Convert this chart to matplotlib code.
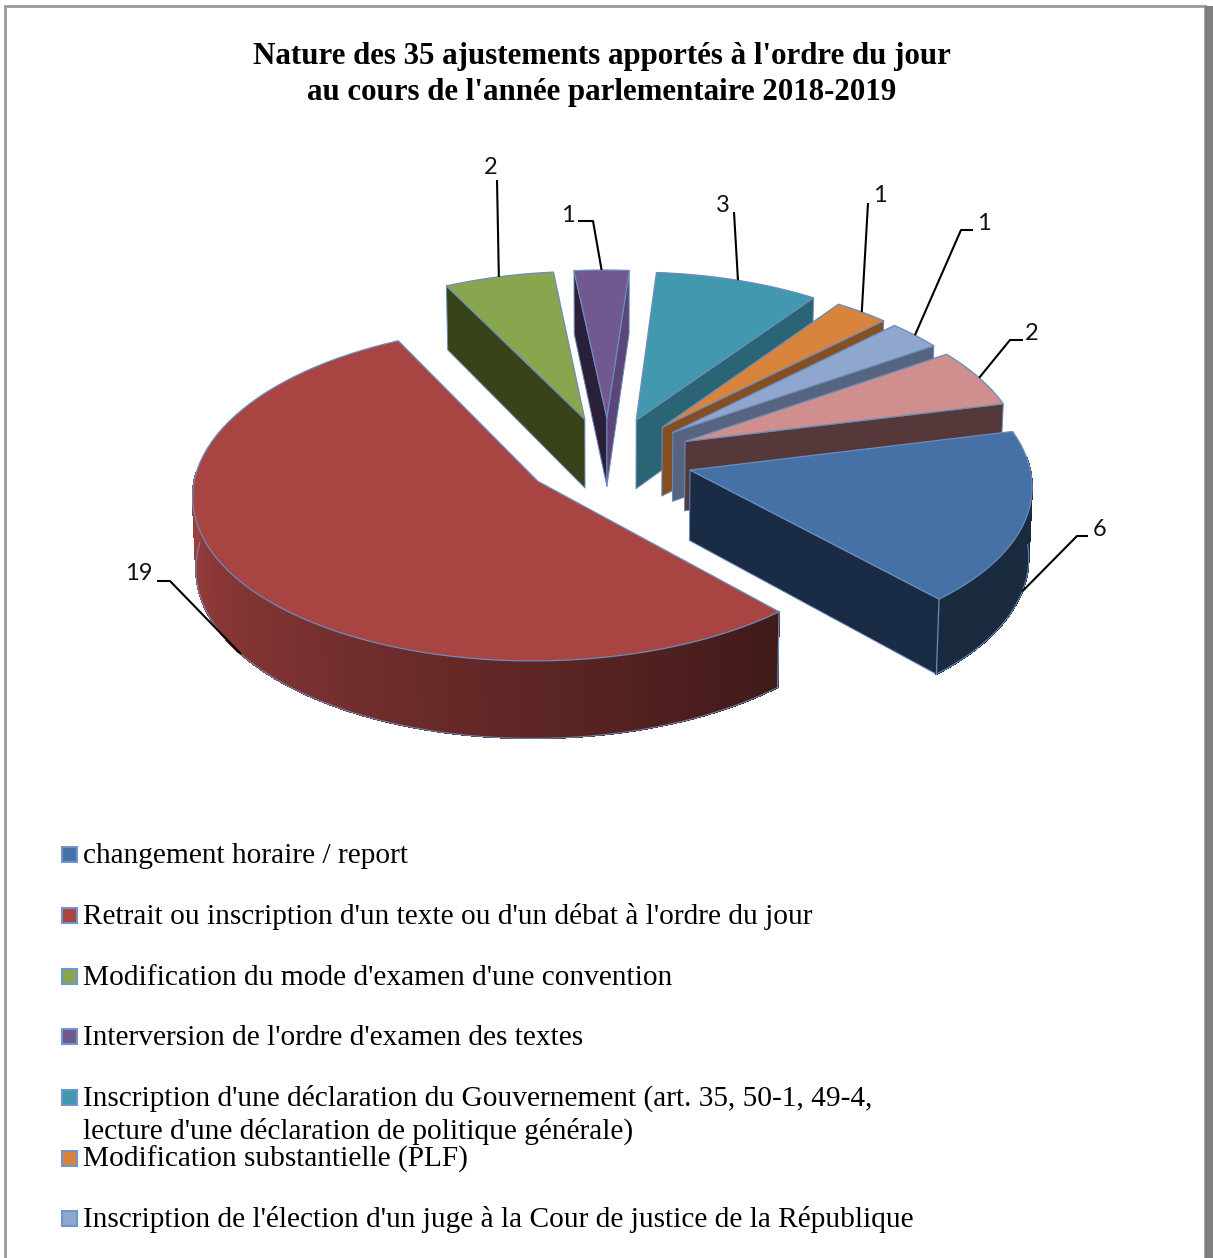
import numpy as np
import matplotlib
matplotlib.use('Agg')
import matplotlib.pyplot as plt
from matplotlib.colors import to_rgb
from matplotlib.patches import Polygon, Rectangle

title = "Nature des 35 ajustements apportés à l'ordre du jour\nau cours de l'année parlementaire 2018-2019"
values = [6, 19, 2, 1, 3, 1, 1, 2]
top_colors = ['#4571A7', '#A84442', '#89A54E', '#71588F', '#4198AF', '#D8843C', '#8FA6CE', '#CE8F8E']
start_side = ['#1A2B45', '#421A18', '#374319', '#2A203A', '#276070', '#854F24', '#566480', '#55393A']
end_side = ['#1A2B45', '#421A18', '#374319', '#5A4678', '#2A6475', '#854F24', '#566480', '#55393A']
legend_labels = [
    "changement horaire / report",
    "Retrait ou inscription d'un texte ou d'un débat à l'ordre du jour",
    "Modification du mode d'examen d'une convention",
    "Interversion de l'ordre d'examen des textes",
    "Inscription d'une déclaration du Gouvernement (art. 35, 50-1, 49-4,\nlecture d'une déclaration de politique générale)",
    "Modification substantielle (PLF)",
    "Inscription de l'élection d'un juge à la Cour de justice de la République",
]
legend_y = [853, 914, 975, 1035, 1096, 1157, 1217]
# label centre and elbow of each leader line, in pixels
label_pos = [(1100, 529), (139, 574), (491, 167), (568, 215), (723, 206), (880, 196), (984, 223), (1032, 333)]
elbows = [(1077, 536), (170, 581), (497, 180), (593, 221), (734, 212), (868, 203), (961, 230), (1010, 340)]
elbow_ends = [(1088, 536), (157, 581), None, (578, 221), None, None, (973, 230), (1023, 340)]

CX, CY = 608.5, 458
RX, RY = 339, 163.5
PERSP_X = 0.08
PERSP_Y = 0.07
SHEAR = 6
TILT = 3.5
DEPTH = 70
EXPLODE = 0.25
START = 75.0
EDGE = '#6C8CBC'


def project(u, v, down=False):
    x = CX + RX * u / (1 + PERSP_X * v) + SHEAR * v
    y = CY - RY * v / (1 + PERSP_Y * v) + TILT * u
    if down:
        x = CX + (x - CX) * 0.992
        y = y + DEPTH / (1 + 1.2 * v * PERSP_Y)
    return x, y


def rim(t, off, down=False):
    a = np.radians(t)
    return project(np.sin(a) + off[0], np.cos(a) + off[1], down)


def outer_shade(t):
    if t < 137:
        return 0.38
    return min(0.38 + 0.55 * (t - 137) / 133, 0.93)


fig = plt.figure(figsize=(12.13, 12.58), dpi=100)
ax = fig.add_axes([0, 0, 1, 1])
ax.set_xlim(0, 1213)
ax.set_ylim(1258, 0)
ax.axis('off')

# page frame
ax.add_patch(Rectangle((5, 6), 1200, 1260, fc='white', ec='#9A9A9A', lw=2))
ax.add_patch(Rectangle((1205, 6), 8, 1252, fc='#7F7F7F', ec='none'))

ax.text(602, 74.5, title, ha='center', va='center', fontsize=22.2, fontweight='bold',
        family='Liberation Serif', linespacing=1.33, color='black')

angles = START + np.cumsum([0] + values) * 360.0 / sum(values)
wedges = []
for i in range(len(values)):
    t0, t1 = angles[i], angles[i + 1]
    mid = np.radians((t0 + t1) / 2)
    off = (EXPLODE * np.sin(mid), EXPLODE * np.cos(mid))
    wedges.append((np.cos(mid), i, t0, t1, off))

# far wedges first, each on its own z level so lines stay with their wedge
for n, (_, i, t0, t1, off) in enumerate(sorted(wedges, key=lambda w: -w[0])):
    z = 3 + n
    ts = np.linspace(t0, t1, 80)
    apex = project(off[0], off[1])
    apex_d = project(off[0], off[1], True)
    base = np.array(to_rgb(top_colors[i]))

    # radial side faces
    if np.sin(np.radians(t0)) < 0:
        face = [apex, rim(t0, off), rim(t0, off, True), apex_d]
        ax.add_patch(Polygon(face, fc=start_side[i], ec=EDGE, lw=0.7, joinstyle='round', zorder=z))
    if np.sin(np.radians(t1)) > 0:
        face = [apex, rim(t1, off), rim(t1, off, True), apex_d]
        ax.add_patch(Polygon(face, fc=end_side[i], ec=EDGE, lw=0.7, joinstyle='round', zorder=z))

    # outer curved face, a bit past the sides so the silhouette closes under the top
    lo, hi = max(t0, 84), min(t1, 272)
    if hi > lo and t0 < 270 and t1 > 90:
        vis = np.linspace(lo, hi, 130)
        for a, b in zip(vis[:-1], vis[1:]):
            col = base * outer_shade((a + b) / 2)
            quad = [rim(a, off), rim(b, off), rim(b, off, True), rim(a, off, True)]
            ax.add_patch(Polygon(quad, fc=col, ec=col, lw=0.6, antialiased=False, zorder=z))
        lower = [rim(t, off, True) for t in vis if t >= 90]
        ax.plot(*zip(*lower), color=EDGE, lw=0.7, zorder=z)
        # seam at the corners of the slice
        if t0 > 90:
            ax.plot(*zip(rim(t0, off), rim(t0, off, True)), color=EDGE, lw=0.9, zorder=z)
        if t1 < 270:
            ax.plot(*zip(rim(t1, off), rim(t1, off, True)), color=EDGE, lw=0.9, zorder=z)

    # top face
    pts = [apex] + [rim(t, off) for t in ts]
    ax.add_patch(Polygon(pts, fc=top_colors[i], ec=EDGE, lw=0.9, joinstyle='round', zorder=z))

# value labels with leader lines from the rim
for _, i, t0, t1, off in wedges:
    mid = (t0 + t1) / 2
    anchor = rim(mid, off, np.cos(np.radians(mid)) < 0)
    path = [anchor, elbows[i]]
    if elbow_ends[i] is not None:
        path.append(elbow_ends[i])
    ax.plot(*zip(*path), color='black', lw=1.5, solid_capstyle='butt', zorder=20)
    ax.text(label_pos[i][0], label_pos[i][1], str(values[i]), ha='center', va='center',
            fontsize=17, family='Lato', color='#111111', zorder=20)

# legend, the last entry falls off the page
for label, y, col in zip(legend_labels, legend_y, top_colors):
    ax.add_patch(Rectangle((61.5, y - 6.5), 15, 15, fc=col, ec='#6F96CC', lw=1.5))
    for j, line in enumerate(label.split('\n')):
        ax.text(83, y + 10 + 33 * j, line, ha='left', va='baseline', fontsize=21.2,
                family='Liberation Serif', color='black')

fig.savefig('out.png', dpi=100)
